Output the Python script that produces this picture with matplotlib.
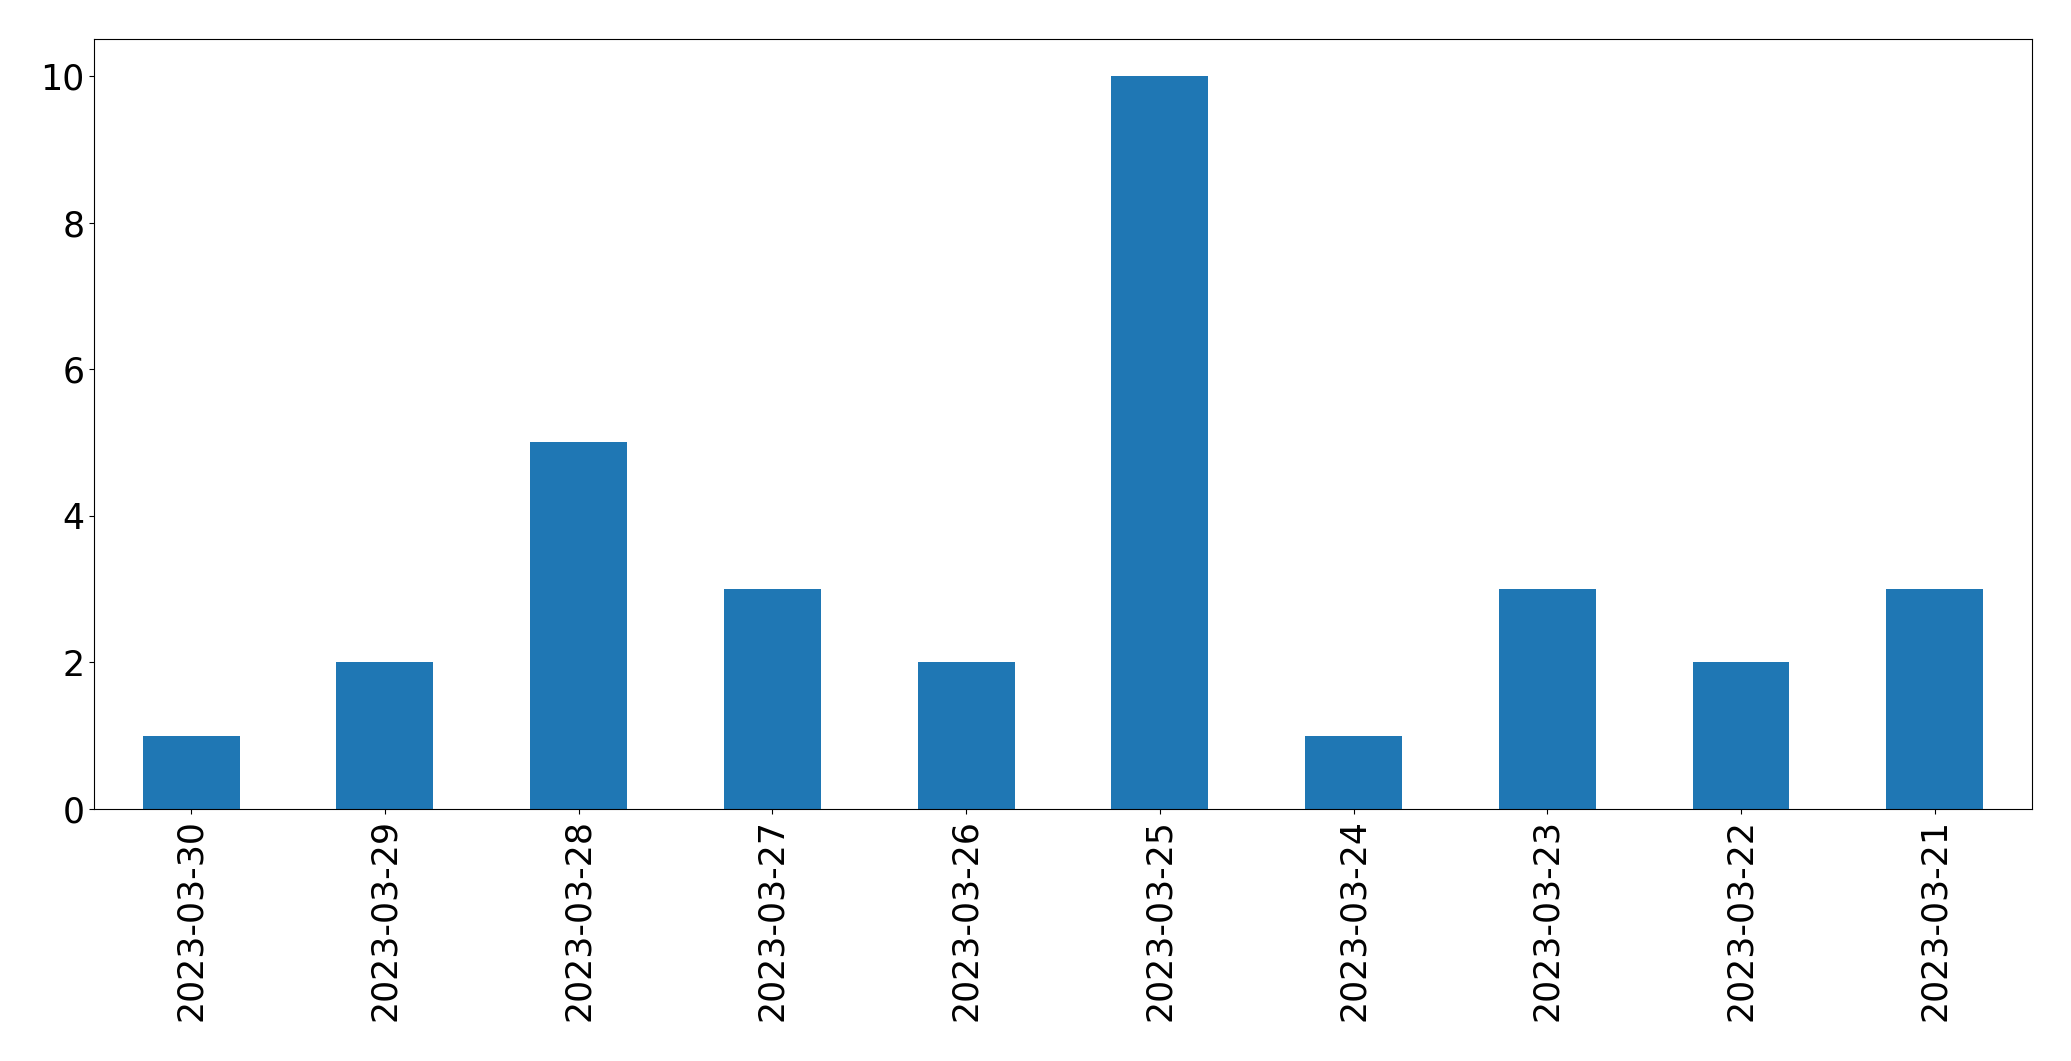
import matplotlib
matplotlib.use("Agg")
import matplotlib.pyplot as plt
import pandas as pd

# dates shown on x axis (newest first) and counts per day
dates = ['2023-03-30', '2023-03-29', '2023-03-28', '2023-03-27', '2023-03-26',
         '2023-03-25', '2023-03-24', '2023-03-23', '2023-03-22', '2023-03-21']
counts = [1, 2, 5, 3, 2, 10, 1, 3, 2, 3]

s = pd.Series(counts, index=dates)

fig = plt.figure(figsize=(20.71, 10.61), dpi=100)
ax = fig.add_axes([0.0455, 0.2375, 0.9355, 0.7255])
s.plot(kind='bar', ax=ax, color='#1f77b4', fontsize=25)
ax.tick_params(axis='both', labelsize=25)

fig.savefig('out.png', dpi=100)
